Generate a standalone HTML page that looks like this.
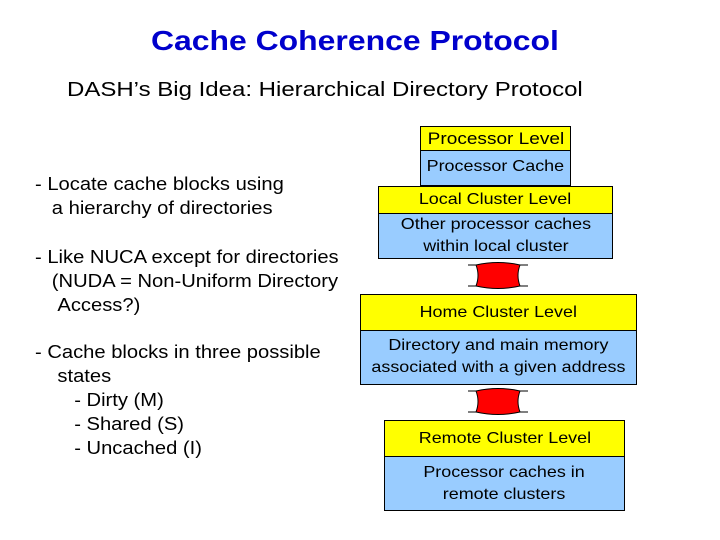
<!DOCTYPE html>
<html><head><style>
body{margin:0;width:720px;height:540px;background:#fff;font-family:"Liberation Sans",sans-serif;position:relative;overflow:hidden}
.t{position:absolute;white-space:nowrap}
.s{transform:scaleX(1.12);transform-origin:0 0}
.b{position:absolute;box-sizing:border-box;border:1px solid #000;text-align:center;font-size:16px;color:#000;display:flex;align-items:center;justify-content:center;line-height:22px}
.b span,.c{display:inline-block;transform:scaleX(1.12)}
.y{background:#ffff00}.u{background:#99ccff}
</style></head><body>
<div class="t" style="left:0;width:710px;text-align:center;top:25px;font-size:28px;font-weight:bold;color:#0000cc"><span class="c" style="transform:scaleX(1.14)">Cache Coherence Protocol</span></div>
<div class="t" style="left:67px;top:79px;font-size:20px;transform:scaleX(1.2);transform-origin:0 0">DASH’s Big Idea: Hierarchical Directory Protocol</div>
<div class="t s" style="left:35px;top:172px;font-size:18px;line-height:24px">- Locate cache blocks using<br>&nbsp;&nbsp;&nbsp;a hierarchy of directories</div>
<div class="t s" style="left:35px;top:245px;font-size:18px;line-height:24px">- Like NUCA except for directories<br>&nbsp;&nbsp;&nbsp;(NUDA = Non-Uniform Directory<br>&nbsp;&nbsp;&nbsp;&nbsp;Access?)</div>
<div class="t s" style="left:35px;top:340px;font-size:18px;line-height:24px">- Cache blocks in three possible<br>&nbsp;&nbsp;&nbsp;&nbsp;states<br>&nbsp;&nbsp;&nbsp;&nbsp;&nbsp;&nbsp;&nbsp;- Dirty (M)<br>&nbsp;&nbsp;&nbsp;&nbsp;&nbsp;&nbsp;&nbsp;- Shared (S)<br>&nbsp;&nbsp;&nbsp;&nbsp;&nbsp;&nbsp;&nbsp;- Uncached (I)</div>

<div class="b u" style="left:420px;top:126px;width:151px;height:60px"></div>
<div class="b y" style="left:420px;top:126px;width:151px;height:25px;font-size:17px"><span>Processor Level</span></div>
<div class="t" style="left:420px;width:151px;text-align:center;top:158px;font-size:16px"><span class="c">Processor Cache</span></div>

<div class="b u" style="left:378px;top:186px;width:235px;height:73px;padding-top:26px"><span>Other processor caches<br>within local cluster</span></div>
<div class="b y" style="left:378px;top:186px;width:235px;height:28px"><span>Local Cluster Level</span></div>

<div class="b u" style="left:360px;top:294px;width:277px;height:91px;padding-top:35px"><span>Directory and main memory<br>associated with a given address</span></div>
<div class="b y" style="left:360px;top:294px;width:277px;height:37px"><span>Home Cluster Level</span></div>

<div class="b u" style="left:384px;top:420px;width:241px;height:91px;padding-top:36px"><span>Processor caches in<br>remote clusters</span></div>
<div class="b y" style="left:384px;top:420px;width:241px;height:37px"><span>Remote Cluster Level</span></div>

<svg style="position:absolute;left:0;top:0" width="720" height="540">
<g stroke="#000" stroke-width="1" fill="#ff0000">
<path d="M468,265 L528,265 M468,286 L528,286" />
<path d="M476,265 Q498,260 520,265 Q516,275.5 520,286 Q498,291 476,286 Q480,275.5 476,265Z"/>
<path d="M468,391 L528,391 M468,412 L528,412" />
<path d="M476,391 Q498,386 520,391 Q516,401.5 520,412 Q498,417 476,412 Q480,401.5 476,391Z"/>
</g></svg>
</body></html>
